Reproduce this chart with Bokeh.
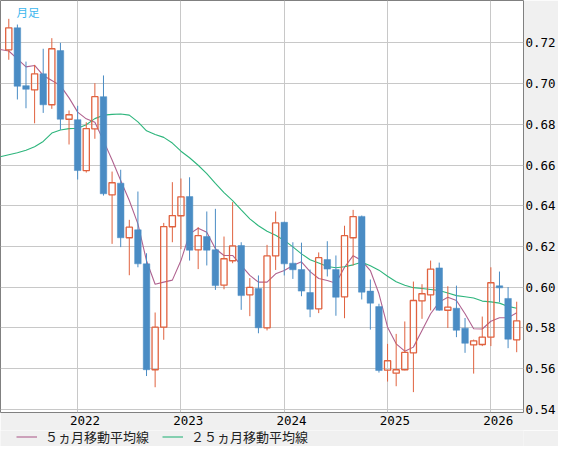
from bokeh.plotting import figure
from bokeh.layouts import column
from bokeh.models import (ColumnDataSource, Range1d, FixedTicker, PrintfTickFormatter,
                          Legend, LegendItem, Label)
from bokeh.embed import file_html
from bokeh.resources import INLINE

# ---------------- data (monthly candles) ----------------
months = [f"{y}-{m:02d}" for y in range(2021, 2027) for m in range(1, 13)][4:64]  # 2021-05 .. 2026-04

opens = [0.7166, 0.7274, 0.6990, 0.6969, 0.7048, 0.6896, 0.7162, 0.6825, 0.6823, 0.6573,
         0.6778, 0.6936, 0.6454, 0.6511, 0.6243, 0.6282, 0.6115, 0.5595, 0.5804, 0.6297,
         0.6351, 0.6445, 0.6184, 0.6249, 0.6184, 0.6010, 0.6130, 0.6205, 0.5963, 0.5994,
         0.5801, 0.6154, 0.6319, 0.6118, 0.6087, 0.5974, 0.5894, 0.6136, 0.6087, 0.5953,
         0.6243, 0.6348, 0.5981, 0.5905, 0.5593, 0.5578, 0.5595, 0.5678, 0.5933, 0.5963,
         0.6095, 0.5887, 0.5897, 0.5799, 0.5717, 0.5719, 0.5755, 0.6007, 0.5945, 0.5742]
highs = [0.7318, 0.7290, 0.7108, 0.7092, 0.7171, 0.7223, 0.7200, 0.6868, 0.6891, 0.6810,
         0.7002, 0.7040, 0.6568, 0.6577, 0.6331, 0.6470, 0.6167, 0.5876, 0.6316, 0.6516,
         0.6534, 0.6540, 0.6295, 0.6372, 0.6385, 0.6249, 0.6418, 0.6221, 0.6045, 0.6058,
         0.6208, 0.6372, 0.6322, 0.6221, 0.6219, 0.6087, 0.6171, 0.6226, 0.6156, 0.6302,
         0.6380, 0.6352, 0.6038, 0.5919, 0.5722, 0.5771, 0.5832, 0.6028, 0.6015, 0.6131,
         0.6121, 0.6005, 0.6008, 0.5849, 0.5743, 0.5856, 0.6098, 0.6077, 0.6001, 0.5929]
lows = [0.7117, 0.6922, 0.6879, 0.6805, 0.6856, 0.6876, 0.6773, 0.6701, 0.6529, 0.6563,
        0.6729, 0.6450, 0.6213, 0.6197, 0.6059, 0.6098, 0.5564, 0.5509, 0.5742, 0.6221,
        0.6187, 0.6131, 0.6089, 0.6107, 0.5987, 0.5990, 0.6118, 0.5889, 0.5858, 0.5774,
        0.5788, 0.6085, 0.6058, 0.6041, 0.5956, 0.5853, 0.5873, 0.6053, 0.5860, 0.5848,
        0.6107, 0.5940, 0.5792, 0.5581, 0.5537, 0.5514, 0.5592, 0.5485, 0.5845, 0.5886,
        0.5885, 0.5800, 0.5755, 0.5678, 0.5576, 0.5711, 0.5711, 0.5927, 0.5701, 0.5681]
closes = [0.7274, 0.6987, 0.6972, 0.7048, 0.6896, 0.7171, 0.6825, 0.6847, 0.6573, 0.6779,
          0.6936, 0.6459, 0.6513, 0.6243, 0.6295, 0.6115, 0.5595, 0.5804, 0.6298, 0.6352,
          0.6444, 0.6182, 0.6253, 0.6182, 0.6008, 0.6140, 0.6203, 0.5959, 0.5999, 0.5801,
          0.6154, 0.6316, 0.6115, 0.6086, 0.5981, 0.5892, 0.6145, 0.6089, 0.5951, 0.6253,
          0.6347, 0.5976, 0.5922, 0.5591, 0.5639, 0.5595, 0.5680, 0.5935, 0.5968, 0.6089,
          0.5887, 0.5902, 0.5789, 0.5725, 0.5737, 0.5755, 0.6022, 0.5997, 0.5745, 0.5835]

# moving averages (first value = month before the window)
ma_months = ["2021-04"] + months
ma5 = [0.7167, 0.7160, 0.7121, 0.7082, 0.7089, 0.7040, 0.7015, 0.6990, 0.6930, 0.6860,
       0.6827, 0.6810, 0.6720, 0.6625, 0.6524, 0.6426, 0.6311, 0.6130, 0.6015, 0.6025,
       0.6035, 0.6131, 0.6262, 0.6290, 0.6270, 0.6189, 0.6156, 0.6156, 0.6107, 0.6058,
       0.6025, 0.6025, 0.6066, 0.6082, 0.6107, 0.6125, 0.6077, 0.6043, 0.6033, 0.6020,
       0.6098, 0.6155, 0.6131, 0.6082, 0.5968, 0.5804, 0.5722, 0.5686, 0.5706, 0.5788,
       0.5870, 0.5927, 0.5951, 0.5935, 0.5870, 0.5796, 0.5795, 0.5833, 0.5850, 0.5850,
       0.5875]
ma25 = [0.6641, 0.6651, 0.6660, 0.6673, 0.6690, 0.6716, 0.6757, 0.6772, 0.6779, 0.6781,
        0.6798, 0.6828, 0.6845, 0.6849, 0.6851, 0.6845, 0.6812, 0.6768, 0.6750, 0.6736,
        0.6708, 0.6668, 0.6636, 0.6599, 0.6558, 0.6510, 0.6465, 0.6425, 0.6380, 0.6336,
        0.6302, 0.6275, 0.6255, 0.6230, 0.6198, 0.6164, 0.6135, 0.6119, 0.6102, 0.6096,
        0.6101, 0.6110, 0.6123, 0.6105, 0.6084, 0.6054, 0.6027, 0.6010, 0.5998, 0.5994,
        0.5989, 0.5984, 0.5972, 0.5959, 0.5953, 0.5947, 0.5932, 0.5928, 0.5922, 0.5906,
        0.5897]

y_ticks = [0.54, 0.56, 0.58, 0.60, 0.62, 0.64, 0.66, 0.68, 0.70, 0.72]
legend_labels = ["５ヵ月移動平均線", "２５ヵ月移動平均線"]
title_text = "月足"

# ---------------- derived positions ----------------
idx = list(range(len(months)))
ma_idx = [i - 1 for i in range(len(ma_months))]
year_idx = [i for i, m in enumerate(months) if m.endswith("-01")]
year_labels = [months[i][:4] for i in year_idx]

UP = "#e0623f"
DOWN = "#4a8cc4"
C_MA5 = "#b0628f"
C_MA25 = "#2db57c"
PANEL = "#f0f0f0"

up = [i for i in idx if closes[i] >= opens[i]]
dn = [i for i in idx if closes[i] < opens[i]]

src_up = ColumnDataSource(dict(
    x=up,
    top=[closes[i] for i in up], bottom=[opens[i] for i in up],
    high=[highs[i] for i in up], low=[lows[i] for i in up]))
src_dn = ColumnDataSource(dict(
    x=dn,
    top=[opens[i] for i in dn], bottom=[closes[i] for i in dn],
    high=[highs[i] for i in dn], low=[lows[i] for i in dn]))
src_ma = ColumnDataSource(dict(x=ma_idx, ma5=ma5, ma25=ma25))

p = figure(width=558, height=430, output_backend="svg", toolbar_location=None,
           x_range=Range1d(-0.962, 59.79), y_range=Range1d(0.5385, 0.7408),
           x_axis_location="below", y_axis_location="right",
           min_border_left=0, min_border_top=0, min_border_right=34, min_border_bottom=18)

p.background_fill_color = "white"
p.border_fill_color = PANEL
p.outline_line_color = "#808080"
p.outline_line_width = 1

# grids
p.xgrid.ticker = FixedTicker(ticks=year_idx)
p.ygrid.ticker = FixedTicker(ticks=y_ticks)
p.grid.grid_line_color = "#c8c8c8"
p.grid.grid_line_width = 1

# axes
label_ticks = [i + 0.85 for i in year_idx]
p.xaxis.ticker = FixedTicker(ticks=label_ticks)
p.xaxis.major_label_overrides = {t: lab for t, lab in zip(label_ticks, year_labels)}
p.yaxis.ticker = FixedTicker(ticks=y_ticks)
p.yaxis.formatter = PrintfTickFormatter(format="%.2f")
for ax in (p.xaxis, p.yaxis):
    ax.axis_line_color = None
    ax.major_tick_line_color = None
    ax.minor_tick_line_color = None
    ax.major_tick_out = 0
    ax.major_tick_in = 0
    ax.major_label_text_font = "DejaVu Sans Mono"
    ax.major_label_text_font_size = "12.5px"
    ax.major_label_text_color = "#000000"
p.xaxis.major_label_standoff = 3
p.yaxis.major_label_standoff = 2

# moving averages (under candles)
p.line("x", "ma5", source=src_ma, line_color=C_MA5, line_width=1.1)
p.line("x", "ma25", source=src_ma, line_color=C_MA25, line_width=1.1)

# wicks
p.segment("x", "high", "x", "top", source=src_up, line_color=UP, line_width=1)
p.segment("x", "bottom", "x", "low", source=src_up, line_color=UP, line_width=1)
p.segment("x", "high", "x", "low", source=src_dn, line_color=DOWN, line_width=1)

# bodies
p.vbar(x="x", top="top", bottom="bottom", width=0.72, source=src_up,
       fill_color=None, line_color=UP, line_width=1.3)
p.vbar(x="x", top="top", bottom="bottom", width=0.76, source=src_dn,
       fill_color=DOWN, line_color=DOWN, line_width=0.5)

# title label at top-left of the frame
p.add_layout(Label(x=16, y=409, x_units="screen", y_units="screen", text=title_text,
                   text_baseline="top", text_font="Noto Sans CJK JP",
                   text_font_size="11.5px", text_color="#3cb6ee"))

# ---------------- legend strip below the chart ----------------
lg = figure(width=558, height=16, output_backend="svg", toolbar_location=None,
            x_range=Range1d(0, 1), y_range=Range1d(10, 11),
            x_axis_location=None, y_axis_location=None,
            min_border_left=0, min_border_right=0, min_border_top=0, min_border_bottom=0)
lg.background_fill_color = PANEL
lg.border_fill_color = PANEL
lg.outline_line_color = None
lg.grid.visible = False
# same series drawn off-range, only to feed the legend glyphs
l5 = lg.line(x=ma_idx, y=ma5, line_color=C_MA5, line_width=1.1)
l25 = lg.line(x=ma_idx, y=ma25, line_color=C_MA25, line_width=1.1)
legend = Legend(items=[LegendItem(label=legend_labels[0], renderers=[l5]),
                       LegendItem(label=legend_labels[1], renderers=[l25])],
                location=(16, 0), orientation="horizontal",
                border_line_color=None, background_fill_alpha=0,
                label_text_font="DejaVu Sans, Noto Sans CJK JP", label_text_font_size="13px",
                label_text_color="#222222", glyph_width=21, glyph_height=13,
                label_height=13, label_standoff=8, spacing=13, padding=0, margin=0)
lg.add_layout(legend)

layout = column(p, lg, spacing=0)
open("out.html", "w").write(file_html(layout, INLINE))
